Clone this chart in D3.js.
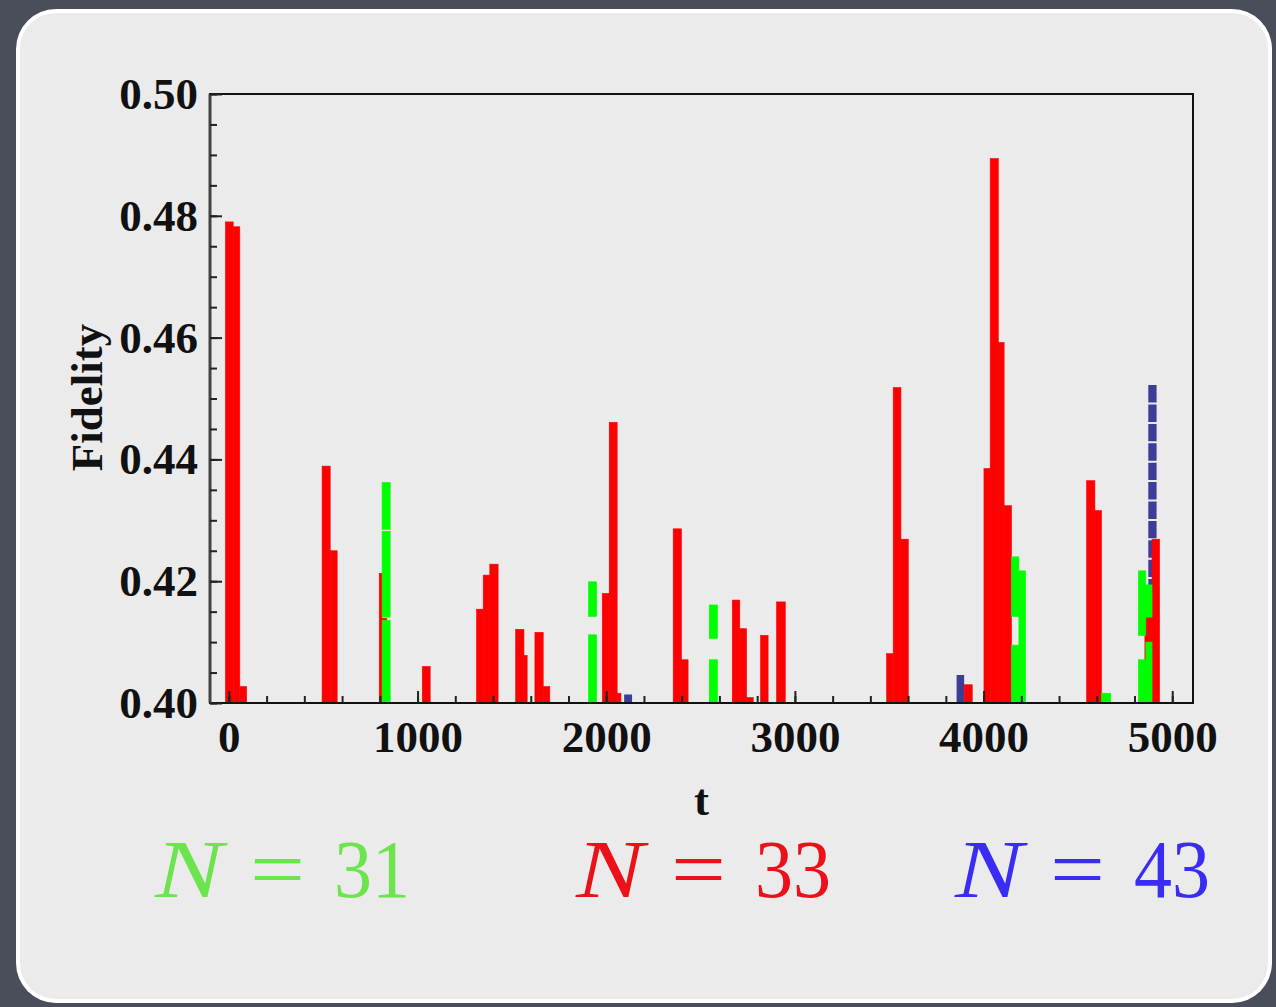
<!DOCTYPE html>
<html>
<head>
<meta charset="utf-8">
<script src="https://cdn.jsdelivr.net/npm/d3@7"></script>
<style>
  html, body { margin: 0; padding: 0; background: #4a4e5b; }
  svg { display: block; }
</style>
</head>
<body>
<svg id="chart" width="1276" height="1007"></svg>
<script>
// ---- data (t start, t end, fidelity) ----
const redBars = [
  [-18, 23, 0.4790], [23, 58, 0.4782], [58, 94, 0.4027],
  [494, 537, 0.4389], [537, 574, 0.4250],
  [797, 812, 0.4213], [812, 837, 0.4139],
  [1025, 1067, 0.4060],
  [1313, 1348, 0.4154], [1348, 1383, 0.4210], [1383, 1427, 0.4228],
  [1520, 1564, 0.4121], [1564, 1581, 0.4078],
  [1622, 1666, 0.4116], [1666, 1701, 0.4027],
  [1979, 2016, 0.4180], [2016, 2058, 0.4461], [2058, 2078, 0.4016],
  [2355, 2399, 0.4286], [2399, 2434, 0.4071],
  [2668, 2708, 0.4169], [2708, 2744, 0.4122], [2744, 2779, 0.4009],
  [2818, 2858, 0.4111],
  [2903, 2949, 0.4166],
  [3486, 3521, 0.4081], [3521, 3562, 0.4518], [3562, 3601, 0.4269],
  [3897, 3940, 0.4030],
  [4002, 4035, 0.4385], [4035, 4078, 0.4894], [4078, 4109, 0.4592], [4109, 4148, 0.4324],
  [4546, 4590, 0.4365], [4590, 4625, 0.4316],
  [4855, 4893, 0.4141], [4893, 4933, 0.4269]
];
// green pieces: t start, t end, fidelity low, fidelity high
const greenBars = [
  [812, 855, 0.4000, 0.4136], [812, 855, 0.4141, 0.4282], [812, 855, 0.4285, 0.4362],
  [1906, 1949, 0.4000, 0.4112], [1906, 1949, 0.4142, 0.4199],
  [2546, 2590, 0.4000, 0.4071], [2546, 2590, 0.4106, 0.4161],
  [4148, 4187, 0.4000, 0.4095], [4148, 4187, 0.4142, 0.4240],
  [4187, 4223, 0.4000, 0.4217],
  [4625, 4673, 0.4000, 0.4016],
  [4820, 4860, 0.4000, 0.4071], [4820, 4860, 0.4111, 0.4217],
  [4860, 4893, 0.4000, 0.4100], [4860, 4893, 0.4141, 0.4194]
];
const blueBars = [
  [2095, 2137, 0.4014], [3857, 3897, 0.4046]
];
const blueDashedBars = [
  [4873, 4917, 0.4522]
];
const xMajorTicks = [0, 1000, 2000, 3000, 4000, 5000];
const xMinorTicks = d3.range(0, 5001, 200);
const yMajorTicks = [0.40, 0.42, 0.44, 0.46, 0.48, 0.50];
const yMinorTicks = d3.range(0, 21).map(i => 0.40 + i * 0.005);
const legendItems = [
  { n: "31", color: "#6ce44e" },
  { n: "33", color: "#ec1019" },
  { n: "43", color: "#3a2cf2" }
];

// ---- layout ----
const svg = d3.select("#chart");
const L = 210, R = 1193, T = 94, B = 703;
const x = d3.scaleLinear().domain([-100, 5110]).range([L, R]);
const y = d3.scaleLinear().domain([0.40, 0.50]).range([B, T]);
const serif = "'Liberation Serif', 'Times New Roman', serif";

// card
svg.append("rect").attr("x", 16).attr("y", 9).attr("width", 1256).attr("height", 994)
  .attr("rx", 40).attr("ry", 40).attr("fill", "#ffffff");
svg.append("rect").attr("x", 20).attr("y", 13).attr("width", 1248).attr("height", 986)
  .attr("rx", 36).attr("ry", 36).attr("fill", "#ebebeb");

const plot = svg.append("g");

// blue solid
plot.selectAll("rect.blue").data(blueBars).join("rect").attr("class", "blue")
  .attr("x", d => x(d[0])).attr("width", d => x(d[1]) - x(d[0]))
  .attr("y", d => y(d[2])).attr("height", d => y(0.40) - y(d[2]))
  .attr("fill", "#3d3d99");
// blue dashed
plot.selectAll("line.blued").data(blueDashedBars).join("line").attr("class", "blued")
  .attr("x1", d => (x(d[0]) + x(d[1])) / 2).attr("x2", d => (x(d[0]) + x(d[1])) / 2)
  .attr("y1", d => y(d[2])).attr("y2", y(0.40))
  .attr("stroke", "#3d3d99").attr("stroke-width", d => x(d[1]) - x(d[0]))
  .attr("stroke-dasharray", "17.4 2");
// red
plot.selectAll("rect.red").data(redBars).join("rect").attr("class", "red")
  .attr("x", d => x(d[0])).attr("width", d => x(d[1]) - x(d[0]))
  .attr("y", d => y(d[2])).attr("height", d => y(0.40) - y(d[2]))
  .attr("fill", "#ff0000").attr("stroke", "#ff0000").attr("stroke-width", 0.6);
// green
plot.selectAll("rect.green").data(greenBars).join("rect").attr("class", "green")
  .attr("x", d => x(d[0])).attr("width", d => x(d[1]) - x(d[0]))
  .attr("y", d => y(d[3])).attr("height", d => y(d[2]) - y(d[3]))
  .attr("fill", "#00ff00").attr("stroke", "#00ff00").attr("stroke-width", 0.6);

// frame
svg.append("rect").attr("x", L).attr("y", T).attr("width", R - L).attr("height", B - T)
  .attr("fill", "none").attr("stroke", "#111").attr("stroke-width", 2);
svg.append("line").attr("x1", L).attr("x2", L).attr("y1", T).attr("y2", B)
  .attr("stroke", "#444").attr("stroke-width", 3);

// axes
function styleAxis(g) {
  g.select(".domain").remove();
  g.selectAll(".tick line").attr("stroke", "#222").attr("stroke-width", 2);
  g.selectAll("text").attr("font-family", serif).attr("font-weight", "bold")
    .attr("font-size", 45).attr("fill", "#111");
}
svg.append("g").attr("transform", `translate(0,${B})`)
  .call(d3.axisBottom(x).tickValues(xMinorTicks).tickSize(-7).tickFormat(""))
  .call(styleAxis);
svg.append("g").attr("transform", `translate(0,${B})`)
  .call(d3.axisBottom(x).tickValues(xMajorTicks).tickSize(-12).tickPadding(17).tickFormat(d3.format("d")))
  .call(styleAxis);
svg.append("g").attr("transform", `translate(${L},0)`)
  .call(d3.axisLeft(y).tickValues(yMinorTicks).tickSize(-7).tickFormat(""))
  .call(styleAxis);
svg.append("g").attr("transform", `translate(${L},0)`)
  .call(d3.axisLeft(y).tickValues(yMajorTicks).tickSize(-12).tickPadding(12).tickFormat(d3.format(".2f")))
  .call(styleAxis);

// axis titles
svg.append("text").attr("x", (L + R) / 2).attr("y", 815).attr("text-anchor", "middle")
  .attr("font-family", serif).attr("font-weight", "bold").attr("font-size", 45)
  .attr("fill", "#111").text("t");
svg.append("text").attr("transform", `translate(102,${(T + B) / 2 - 1}) rotate(-90)`)
  .attr("text-anchor", "middle")
  .attr("font-family", serif).attr("font-weight", "bold").attr("font-size", 45)
  .attr("fill", "#111").text("Fidelity");

// legend
const legendStarts = [155, 576, 955];
legendItems.forEach((d, i) => {
  const g = svg.append("g").attr("transform", `translate(${legendStarts[i]},897)`)
    .attr("fill", d.color).attr("font-family", serif).attr("font-size", 82);
  g.append("text").attr("x", 0).attr("font-style", "italic")
    .attr("textLength", 68).attr("lengthAdjust", "spacingAndGlyphs").text("N");
  g.append("text").attr("x", 95)
    .attr("textLength", 55).attr("lengthAdjust", "spacingAndGlyphs").text("=");
  g.append("text").attr("x", 179)
    .attr("textLength", 76).attr("lengthAdjust", "spacingAndGlyphs").text(d.n);
});
</script>
</body>
</html>
